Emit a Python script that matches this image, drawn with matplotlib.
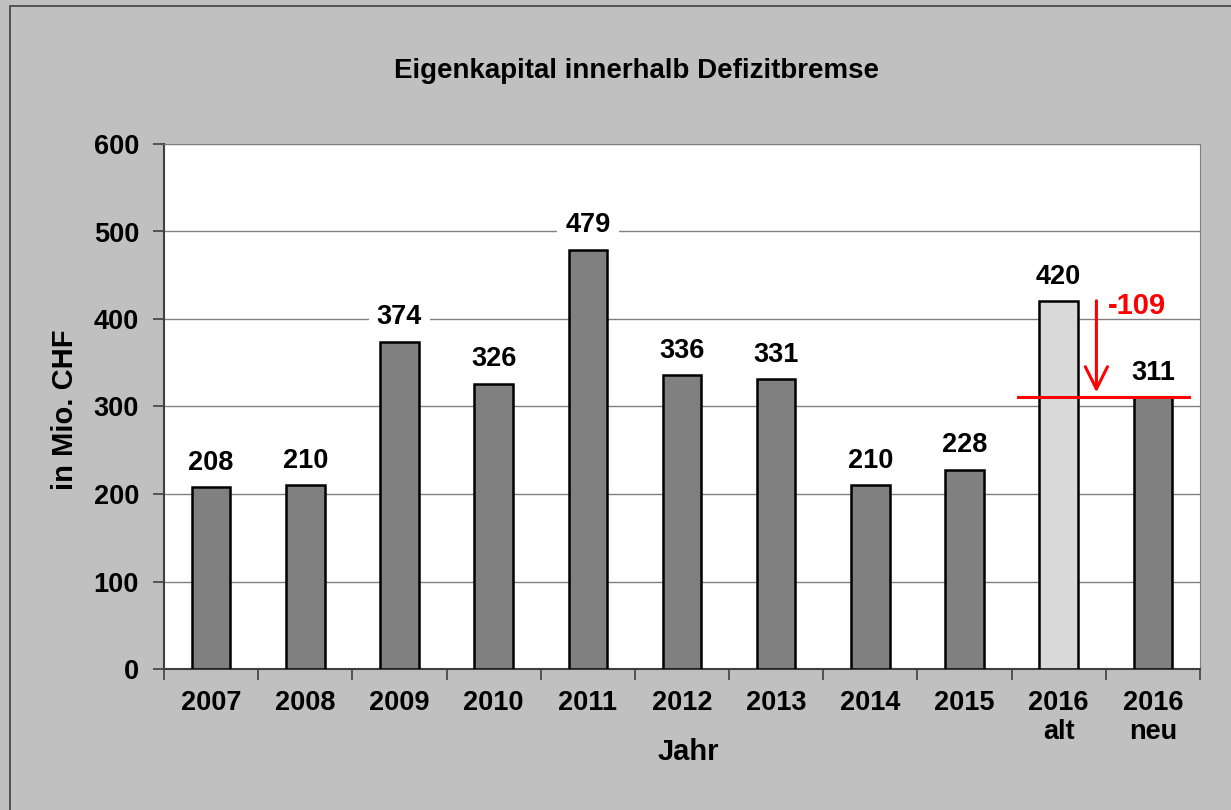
import matplotlib.pyplot as plt
from matplotlib.patches import Rectangle

plt.rcParams['font.family'] = ['Liberation Sans', 'DejaVu Sans']
plt.rcParams['font.weight'] = 'bold'

# data
categories = ['2007', '2008', '2009', '2010', '2011', '2012', '2013', '2014', '2015', '2016\nalt', '2016\nneu']
values = [208, 210, 374, 326, 479, 336, 331, 210, 228, 420, 311]
colors = ['#808080'] * 9 + ['#D9D9D9', '#808080']
diff_label = '-109'

fig = plt.figure(figsize=(12.31, 8.10), dpi=100)
fig.patch.set_facecolor('#C0C0C0')
fig.patches.append(Rectangle((10 / 1231, -0.1), 1.2, 1 - 6 / 810 + 0.1, transform=fig.transFigure,
                             fill=False, edgecolor='#404040', linewidth=1.2))

ax = fig.add_axes([164 / 1231, 1 - 669 / 810, (1200 - 164) / 1231, (669 - 144) / 810])
ax.set_facecolor('white')

x = list(range(len(categories)))
ax.bar(x, values, width=0.41, color=colors, edgecolor='black', linewidth=1.8, zorder=3)

for xi, v in zip(x, values):
    ax.text(xi, v + 13, str(v), ha='center', va='bottom', fontsize=19.5, fontweight='bold',
            bbox=dict(facecolor='white', edgecolor='none', boxstyle='square,pad=0.3'), zorder=4)

# red difference marker
ax.plot([8.57, 10.38], [values[10], values[10]], color='red', linewidth=2.2, zorder=5)
ax.annotate('', xy=(9.4, values[10] + 2), xytext=(9.4, values[9] + 4),
            arrowprops=dict(arrowstyle='->', color='red', lw=2.2, mutation_scale=40), zorder=5)
ax.text(9.52, 415, diff_label, color='red', fontsize=21, fontweight='bold', ha='left', va='center', zorder=5)

ax.set_xlim(-0.5, 10.5)
ax.set_ylim(0, 600)
ax.set_yticks(range(0, 601, 100))
ax.yaxis.grid(True, color='#808080', linewidth=1.0, zorder=0)
ax.set_axisbelow(True)

ax.set_xticks(x)
ax.set_xticklabels(categories, fontsize=19.5, fontweight='bold', linespacing=1.18)
ax.set_xticks([i + 0.5 for i in range(-1, len(categories))], minor=True)
ax.tick_params(axis='x', which='major', length=0, pad=15)
ax.tick_params(axis='x', which='minor', length=8, width=1.2, color='#404040', direction='out')
ax.tick_params(axis='y', length=8, width=1.2, color='#404040', direction='out', labelsize=19.5, pad=10)
for lab in ax.get_yticklabels():
    lab.set_fontweight('bold')

ax.spines['left'].set_color('#404040')
ax.spines['left'].set_linewidth(1.5)
ax.spines['bottom'].set_color('#404040')
ax.spines['bottom'].set_linewidth(1.5)
ax.spines['top'].set_color('#808080')
ax.spines['right'].set_color('#808080')

fig.text(65 / 1231, 1 - 410 / 810, 'in Mio. CHF', rotation=90, ha='center', va='center',
         fontsize=21, fontweight='bold')
fig.text(688 / 1231, 1 - 752 / 810, 'Jahr', ha='center', va='center', fontsize=21, fontweight='bold')
fig.text(636 / 1231, 1 - 71 / 810, 'Eigenkapital innerhalb Defizitbremse', ha='center', va='center',
         fontsize=20, fontweight='bold')

fig.savefig('out.png', dpi=100, facecolor=fig.get_facecolor())
